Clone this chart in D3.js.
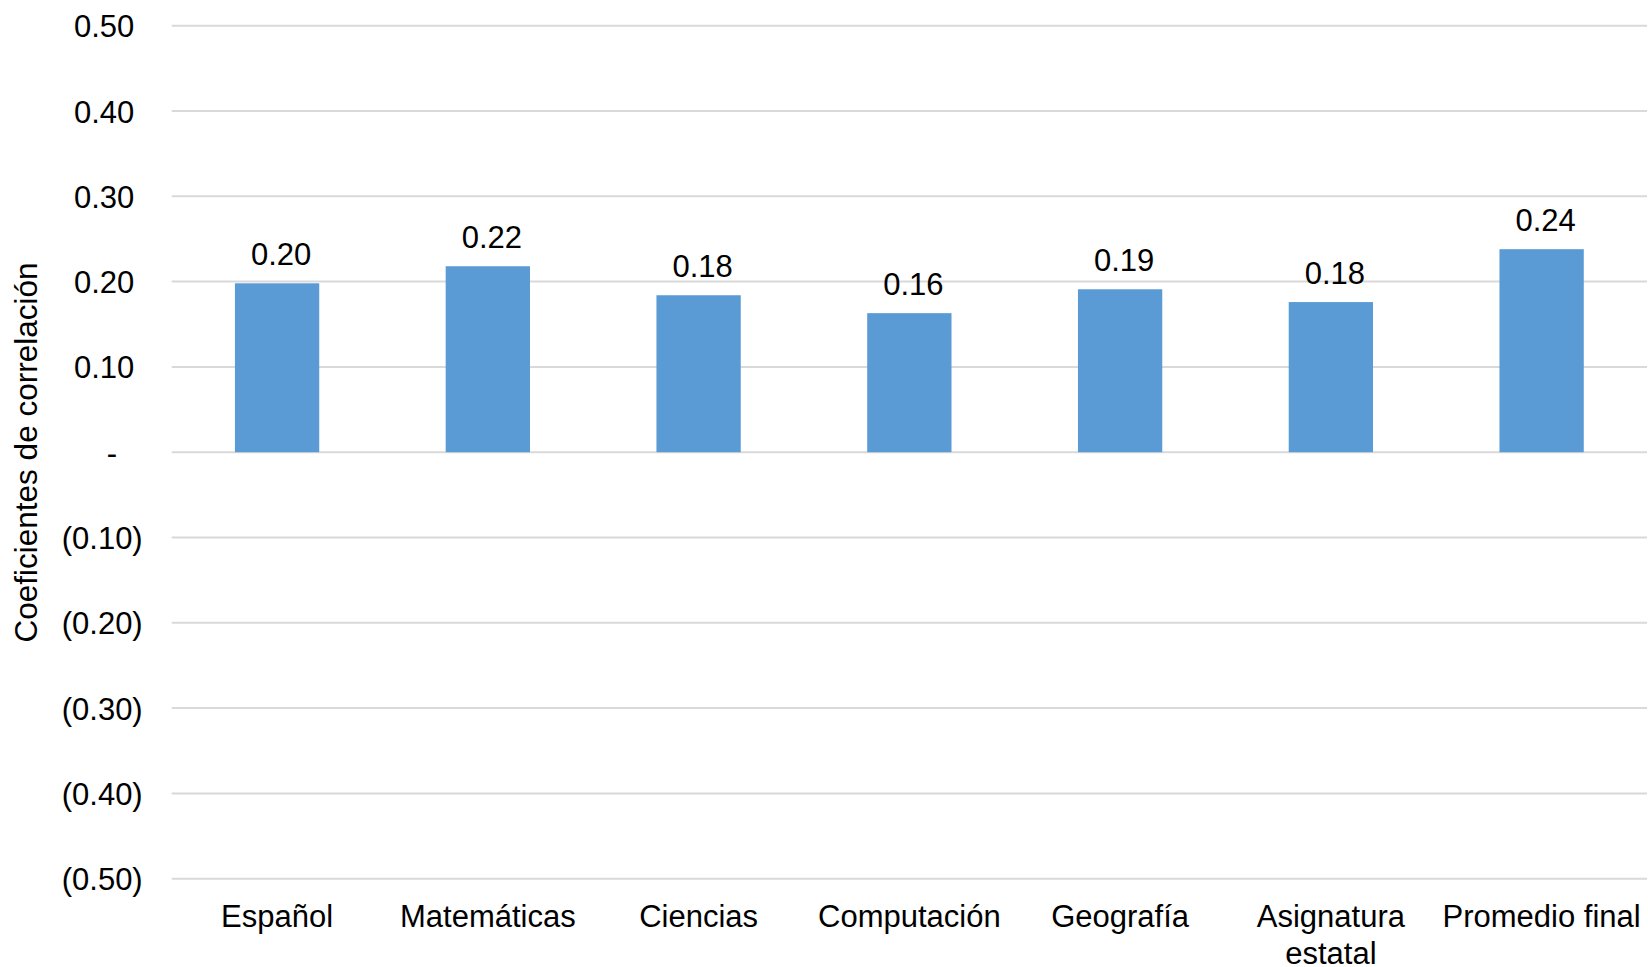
<!DOCTYPE html>
<html>
<head>
<meta charset="utf-8">
<script src="https://cdn.jsdelivr.net/npm/d3@7"></script>
<style>
  html, body { margin: 0; padding: 0; background: #ffffff; }
  svg { display: block; font-family: "Liberation Sans", Arial, sans-serif; }
</style>
</head>
<body>
<svg id="chart" width="1648" height="967"></svg>
<script>
// Correlation coefficient per subject
const categories = ["Español", "Matemáticas", "Ciencias", "Computación", "Geografía", "Asignatura estatal", "Promedio final"];
const coefficients = [0.198, 0.218, 0.184, 0.163, 0.191, 0.176, 0.238];
const yTicks = [-0.5, -0.4, -0.3, -0.2, -0.1, 0, 0.1, 0.2, 0.3, 0.4, 0.5];
const yTitle = "Coeficientes de correlación";

const W = 1648, H = 967;
const plot = { left: 171.7, right: 1647, top: 25.7, bottom: 878.7 };
const fontSize = 31;

const svg = d3.select("#chart");

const x = d3.scaleBand()
  .domain(categories)
  .range([plot.left, plot.right])
  .paddingInner(0.6)
  .paddingOuter(0.3);

const y = d3.scaleLinear()
  .domain([-0.5, 0.5])
  .range([plot.bottom, plot.top]);

const fmt = d3.format(".2f");
const tickText = v => Math.abs(v) < 1e-9 ? "-" : (v < 0 ? "(" + fmt(-v) + ")" : fmt(v));

// Horizontal gridlines
svg.append("g")
  .selectAll("line")
  .data(yTicks)
  .join("line")
  .attr("x1", plot.left)
  .attr("x2", plot.right)
  .attr("y1", d => y(d))
  .attr("y2", d => y(d))
  .attr("stroke", "#d9d9d9")
  .attr("stroke-width", 2);

// Y tick labels (accounting style: negatives in parentheses, zero as a dash)
const yAxis = d3.axisLeft(y).tickValues(yTicks).tickFormat(tickText).tickSize(0);
const yg = svg.append("g").call(yAxis);
yg.select(".domain").remove();
yg.selectAll(".tick text")
  .attr("font-family", "Liberation Sans, Arial, sans-serif")
  .attr("font-size", fontSize)
  .attr("fill", "#000")
  .attr("dy", null)
  .attr("y", 11)
  .attr("text-anchor", d => Math.abs(d) < 1e-9 ? "middle" : "end")
  .attr("x", d => Math.abs(d) < 1e-9 ? 112 - plot.left : (d < 0 ? 142.7 : 134.3) - plot.left);
yg.attr("transform", `translate(${plot.left},0)`);

// Bars
svg.append("g")
  .selectAll("rect")
  .data(categories.map((c, i) => ({ c, v: coefficients[i] })))
  .join("rect")
  .attr("x", d => x(d.c))
  .attr("width", x.bandwidth())
  .attr("y", d => y(Math.max(0, d.v)))
  .attr("height", d => Math.abs(y(d.v) - y(0)))
  .attr("fill", "#5b9bd5");

// Value labels above bars
svg.append("g")
  .selectAll("text")
  .data(categories.map((c, i) => ({ c, v: coefficients[i] })))
  .join("text")
  .attr("x", d => x(d.c) + x.bandwidth() / 2 + 4)
  .attr("y", d => y(d.v) - 18)
  .attr("text-anchor", "middle")
  .attr("font-size", fontSize)
  .attr("fill", "#000")
  .text(d => fmt(d.v));

// Category labels, wrapped to the band step
const xAxis = d3.axisBottom(x).tickSize(0);
const xg = svg.append("g").attr("transform", `translate(0,${plot.bottom})`).call(xAxis);
xg.select(".domain").remove();
const step = x.step();
xg.selectAll(".tick text")
  .attr("font-family", "Liberation Sans, Arial, sans-serif")
  .attr("font-size", fontSize)
  .attr("fill", "#000")
  .attr("dy", null)
  .attr("y", 48.5)
  .each(function (d) {
    const t = d3.select(this);
    const words = d.split(" ");
    t.text(null);
    let line = [];
    let tspan = t.append("tspan").attr("x", 0).attr("dy", 0);
    for (const w of words) {
      line.push(w);
      tspan.text(line.join(" "));
      if (tspan.node().getComputedTextLength() > step && line.length > 1) {
        line.pop();
        tspan.text(line.join(" "));
        line = [w];
        tspan = t.append("tspan").attr("x", 0).attr("dy", 36.5).text(w);
      }
    }
  });

// Y axis title
svg.append("text")
  .attr("transform", `translate(37,452.5) rotate(-90)`)
  .attr("text-anchor", "middle")
  .attr("font-size", 31.5)
  .attr("fill", "#000")
  .text(yTitle);
</script>
</body>
</html>
